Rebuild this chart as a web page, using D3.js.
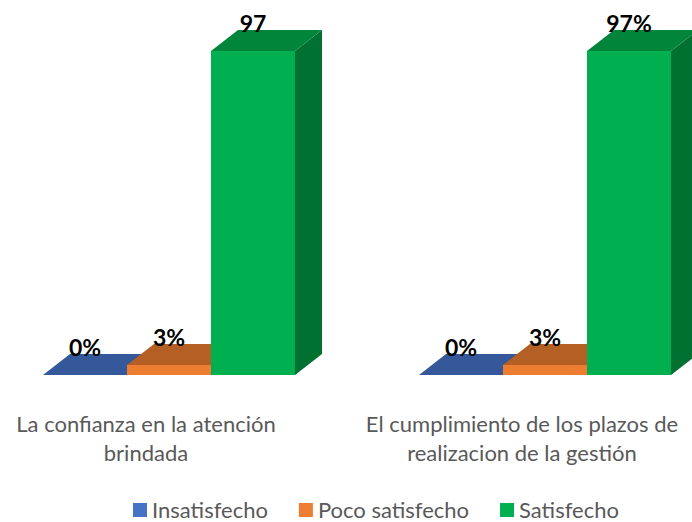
<!DOCTYPE html>
<html>
<head>
<meta charset="utf-8">
<script src="https://cdn.jsdelivr.net/npm/d3@7"></script>
<style>
  body { margin: 0; background: #fff; }
  svg { display: block; font-family: Lato, "Open Sans", sans-serif; }
</style>
</head>
<body>
<svg id="chart"></svg>
<script>
// Data
const categories = [
    ["La confianza en la atención", "brindada"],
    ["El cumplimiento de los plazos de", "realizacion de la gestión"]
];
const series = ["Insatisfecho", "Poco satisfecho", "Satisfecho"];
const values = [
    [0, 3, 97],
    [0, 3, 97]
];
const valueLabels = [
    ["0%", "3%", "97"],
    ["0%", "3%", "97%"]
];

// Colours: front, top, side
const frontColors = ["#4472C4", "#ED7D31", "#00B050"];
const topColors = ["#35589A", "#B45F24", "#00853A"];
const sideColors = ["#2F4F8A", "#A0541F", "#007131"];

const width = 692, height = 522;
const baseY = 375;
const depthX = 27, depthY = 21;

const svg = d3.select("#chart")
    .attr("width", width)
    .attr("height", height);

// Scales
const x0 = d3.scaleBand()
    .domain(d3.range(categories.length))
    .range([-42, 710]);

const x1 = d3.scaleBand()
    .domain(series)
    .range([0, 252]);

const y = d3.scaleLinear()
    .domain([0, 100])
    .range([baseY, 41]);

const groups = svg.selectAll("g.group")
    .data(values)
    .join("g")
    .attr("class", "group")
    .attr("transform", (d, i) => "translate(" + (x0(i) + x0.bandwidth() / 2 - 103) + ",0)");

const w = x1.bandwidth();

groups.each(function (vals, ci) {
    const g = d3.select(this);
    vals.forEach((v, si) => {
        const x = x1(series[si]);
        const yv = y(v);
        // side face
        g.append("path")
            .attr("d", `M${x + w},${yv} L${x + w + depthX},${yv - depthY} L${x + w + depthX},${baseY - depthY} L${x + w},${baseY} Z`)
            .attr("fill", sideColors[si]);
        // front face
        g.append("rect")
            .attr("x", x)
            .attr("y", yv)
            .attr("width", w)
            .attr("height", baseY - yv)
            .attr("fill", frontColors[si]);
        // top face
        g.append("path")
            .attr("d", `M${x},${yv} L${x + depthX},${yv - depthY} L${x + w + depthX},${yv - depthY} L${x + w},${yv} Z`)
            .attr("fill", topColors[si]);
    });

    // data labels
    g.selectAll("text.value")
        .data(vals)
        .join("text")
        .attr("class", "value")
        .attr("x", (d, si) => x1(series[si]) + w / 2)
        .attr("y", d => y(d) - depthY + 2)
        .attr("text-anchor", "middle")
        .style("font-size", "23px")
        .style("font-weight", "bold")
        .style("fill", "#000")
        .text((d, si) => valueLabels[ci][si]);
});

// Category labels
const catLabels = svg.selectAll("text.cat")
    .data(categories)
    .join("text")
    .attr("class", "cat")
    .attr("text-anchor", "middle")
    .style("font-size", "22px")
    .style("fill", "#595959");

catLabels.selectAll("tspan")
    .data((d, i) => d.map(t => ({ t, i })))
    .join("tspan")
    .attr("x", d => x0(d.i) + x0.bandwidth() / 2)
    .attr("y", (d, j) => 432 + j * 29)
    .text(d => d.t);

// Legend
const legend = svg.append("g");
let lx = 133;
series.forEach((s, i) => {
    legend.append("rect")
        .attr("x", lx)
        .attr("y", 503)
        .attr("width", 14)
        .attr("height", 14)
        .attr("fill", frontColors[i]);
    const t = legend.append("text")
        .attr("x", lx + 19)
        .attr("y", 518)
        .style("font-size", "22px")
        .style("fill", "#595959")
        .text(s);
    lx += 19 + t.node().getComputedTextLength() + 31;
});
</script>
</body>
</html>
